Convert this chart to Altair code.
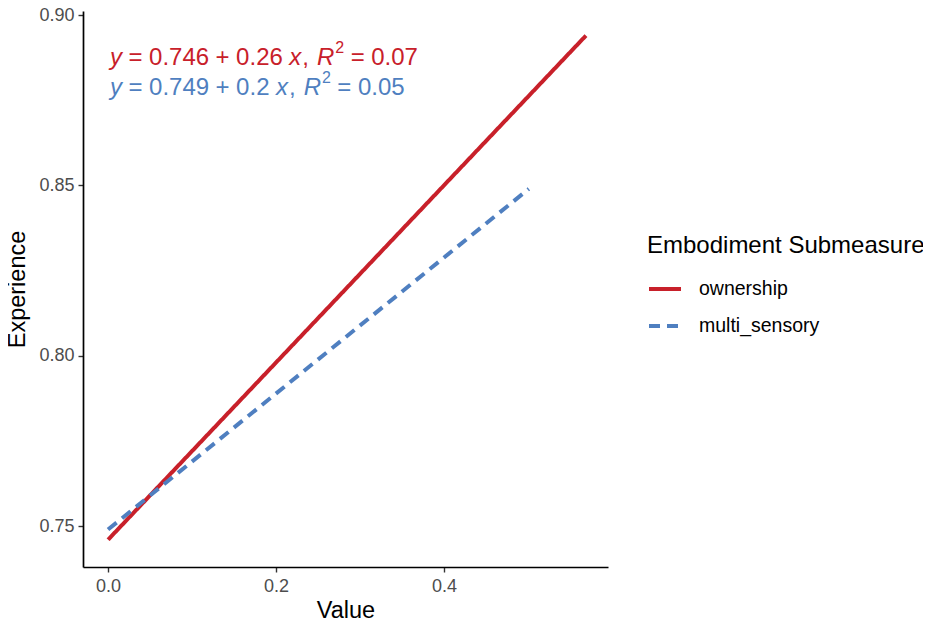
import altair as alt
import pandas as pd

# fitted lines (start / end of each segment)
groups = ["ownership", "multi_sensory"]
own_x = [0.0, 0.569]
own_y = [0.746, 0.894]
multi_x = [0.0, 0.501]
multi_y = [0.749, 0.849]

colors = {"ownership": "#C8202A", "multi_sensory": "#4F7FC0"}
dashes = {"ownership": [1, 0], "multi_sensory": [11, 7]}

# equation labels as pieces: (text, italic, superscript)
own_label = [("y", 1, 0), ("=", 0, 0), ("0.746", 0, 0), ("+", 0, 0), ("0.26", 0, 0),
             ("x", 1, 0), (",", 0, 0), ("R", 1, 0), ("2", 0, 1), ("=", 0, 0), ("0.07", 0, 0)]
multi_label = [("y", 1, 0), ("=", 0, 0), ("0.749", 0, 0), ("+", 0, 0), ("0.2", 0, 0),
               ("x", 1, 0), (",", 0, 0), ("R", 1, 0), ("2", 0, 1), ("=", 0, 0), ("0.05", 0, 0)]
label_y = [0.8854, 0.8766]

frame = pd.DataFrame({
    "Value": own_x + multi_x,
    "Experience": own_y + multi_y,
    "group": [groups[0]] * 2 + [groups[1]] * 2,
})

FONT = "Liberation Sans"
EQ_SIZE = 24
SUP_SIZE = 16
GAP = 6.5

# rough Arial / Liberation Sans advance widths (em)
WIDTHS = {"y": 0.5, "x": 0.5, "R": 0.722, "=": 0.584, "+": 0.584, ".": 0.278, ",": 0.278}


def text_width(s, size):
    return sum(WIDTHS.get(c, 0.556) for c in s) * size


def piece_offsets(pieces):
    offsets, pos, prev = [], 0.0, None
    for text, italic, sup in pieces:
        if prev is not None:
            if text == "," or sup:
                pos += 1
            elif prev == ",":
                pos += GAP + 1.5
            else:
                pos += GAP
        offsets.append(pos)
        pos += text_width(text, SUP_SIZE if sup else EQ_SIZE)
        prev = text
    return offsets


lines = alt.Chart(frame).mark_line(strokeWidth=4, clip=False).encode(
    x=alt.X("Value:Q",
            scale=alt.Scale(domain=[-0.0298, 0.5952], nice=False, zero=False),
            axis=alt.Axis(values=[0.0, 0.2, 0.4], format=".1f", title="Value")),
    y=alt.Y("Experience:Q",
            scale=alt.Scale(domain=[0.738, 0.9012], nice=False, zero=False),
            axis=alt.Axis(values=[0.75, 0.80, 0.85, 0.90], format=".2f", title="Experience")),
    color=alt.Color("group:N", title="Embodiment Submeasure",
                    scale=alt.Scale(domain=groups, range=[colors[g] for g in groups])),
    strokeDash=alt.StrokeDash("group:N", title="Embodiment Submeasure",
                              scale=alt.Scale(domain=groups, range=[dashes[g] for g in groups])),
    detail="group:N",
)

layers = [lines]
for pieces, yv, g in [(own_label, label_y[0], groups[0]), (multi_label, label_y[1], groups[1])]:
    for (text, italic, sup), off in zip(pieces, piece_offsets(pieces)):
        seg = alt.Chart(pd.DataFrame({"x": [0.0], "y": [yv], "t": [text]})).mark_text(
            align="left",
            baseline="alphabetic",
            font=FONT,
            fontSize=SUP_SIZE if sup else EQ_SIZE,
            fontStyle="italic" if italic else "normal",
            color=colors[g],
            dx=2 + off,
            dy=-12 if sup else 0,
        ).encode(x="x:Q", y="y:Q", text="t:N")
        layers.append(seg)

chart = alt.layer(*layers).properties(
    width=525,
    height=556,
    autosize=alt.AutoSizeParams(type="none"),
    padding={"left": 75, "top": 3, "right": 315, "bottom": 52},
).configure_view(
    stroke=None
).configure_axis(
    grid=False,
    domainColor="black",
    domainWidth=1.7,
    tickColor="#333333",
    tickWidth=1.4,
    tickSize=5,
    labelFont=FONT,
    labelFontSize=18,
    labelColor="#4D4D4D",
    titleFont=FONT,
    titleFontSize=23.5,
    titleFontWeight="normal",
    titleColor="black",
).configure_axisY(
    labelPadding=4,
    titlePadding=9,
).configure_axisX(
    labelPadding=5,
    titlePadding=3,
).configure_legend(
    orient="none",
    legendX=564,
    legendY=223,
    titleFont=FONT,
    titleFontSize=24,
    titleFontWeight="normal",
    titleColor="black",
    titleLimit=400,
    titlePadding=13,
    labelFont=FONT,
    labelFontSize=19.5,
    labelColor="black",
    labelOffset=16,
    labelLimit=300,
    symbolType="stroke",
    symbolStrokeWidth=4,
    symbolSize=1024,
    rowPadding=9,
)

chart.save("out.html", embed_options={"renderer": "svg", "actions": False})
